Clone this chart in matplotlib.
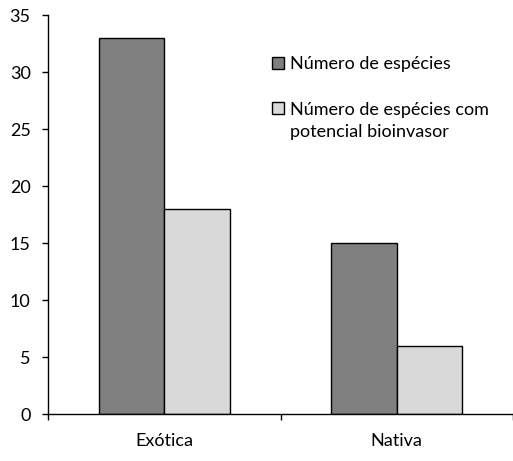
import matplotlib
matplotlib.use("Agg")
import matplotlib.pyplot as plt
from matplotlib.patches import Rectangle
import numpy as np

categories = ["Exótica", "Nativa"]
n_especies = [33, 15]
n_bioinvasor = [18, 6]
series_labels = ["Número de espécies", "Número de espécies com\npotencial bioinvasor"]
series_colors = ["#808080", "#d9d9d9"]
yticks = [0, 5, 10, 15, 20, 25, 30, 35]

plt.rcParams['font.family'] = ['Lato', 'DejaVu Sans']

W, H = 513, 461
fig = plt.figure(figsize=(W/100, H/100), dpi=100)
ax = fig.add_axes([48/W, (H-414)/H, 1 - 48/W, (414-15)/H])

x = np.arange(len(categories))
w = 0.282
ax.bar(x - w/2, n_especies, w, color=series_colors[0], edgecolor="black", linewidth=1.0)
ax.bar(x + w/2, n_bioinvasor, w, color=series_colors[1], edgecolor="black", linewidth=1.0)

ax.set_ylim(0, 35)
ax.set_xlim(-0.5, 1.487)
ax.set_yticks(yticks)
ax.set_xticks(x)
ax.set_xticklabels(categories)
ax.set_xticks([-0.5, 0.5, 1.5], minor=True)
ax.tick_params(axis='x', which='major', length=0, pad=14, labelsize=13)
ax.tick_params(axis='x', which='minor', length=4.5, width=1.0, direction='out')
ax.tick_params(axis='y', length=4.5, width=1.0, direction='out', pad=8, labelsize=13)
for s in ["top", "right"]:
    ax.spines[s].set_visible(False)
ax.spines["left"].set_linewidth(1.0)
ax.spines["bottom"].set_linewidth(1.0)

# Legend drawn manually (square aligned with first text line)
entry_y = [63, 108]
for lab, col, yc in zip(series_labels, series_colors, entry_y):
    fig.patches.append(Rectangle((272/W, (H - yc - 6)/H), 12/W, 12/H,
                                 transform=fig.transFigure, facecolor=col,
                                 edgecolor="black", linewidth=1.0))
    for i, line in enumerate(lab.split("\n")):
        fig.text(290/W, (H - yc - i*22.5)/H, line, fontsize=13,
                 ha="left", va="center_baseline")

fig.savefig("out.png", dpi=100)
